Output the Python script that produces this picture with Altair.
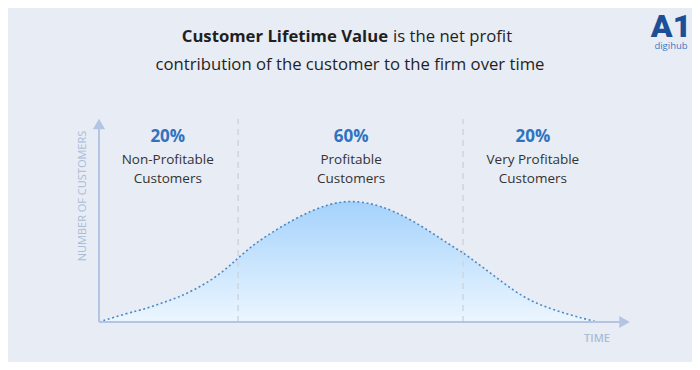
import altair as alt
import pandas as pd

# Curve: time (0-100) vs number of customers (0-100)
time = [0, 5.4, 8.6, 11.8, 14.8, 18.0, 21.2, 24.2, 26.1, 28.7, 30.8, 37.1, 43.3, 47.7, 52.7, 58.9,
        66.4, 68.3, 70.9, 73.4, 75.8, 78.4, 81.4, 84.6, 87.8, 90.8, 93.4]
customers = [0, 4.4, 6.3, 9.3, 11.9, 15.9, 20.6, 26.6, 31.3, 37.0, 41.0, 51.2, 58, 59.3, 57.1, 49.8,
             36.6, 33.9, 28.8, 23.9, 19.2, 14.3, 9.8, 6.6, 3.9, 1.8, 0]

# Segment boundaries and labels
boundaries = [26.1, 68.3]
seg_center = [12.9, 47.3, 81.4]
seg_pct = ["20%", "60%", "20%"]
seg_name = ["Non-Profitable\nCustomers", "Profitable\nCustomers", "Very Profitable\nCustomers"]

title_bold = "Customer Lifetime Value"
title_rest = "is the net profit"
title_line2 = "contribution of the customer to the firm over time"
y_label = "NUMBER OF CUSTOMERS"
x_label = "TIME"

BG = "#e8ecf4"
AXIS = "#b3c5e3"
FONT = "Open Sans"

curve = pd.DataFrame({"t": time, "c": customers})
xs = alt.Scale(domain=[0, 100], nice=False, zero=False)
ys = alt.Scale(domain=[0, 100], nice=False, zero=False)
X = lambda f: alt.X(f, type="quantitative", scale=xs, axis=None)
Y = lambda f: alt.Y(f, type="quantitative", scale=ys, axis=None)

grad = alt.Gradient(
    gradient="linear",
    stops=[alt.GradientStop(color="#ecf6ff", offset=0), alt.GradientStop(color="#a4d2fc", offset=1)],
    x1=1, x2=1, y1=1, y2=0,
)
area = alt.Chart(curve).mark_area(interpolate="basis", color=grad, clip=False).encode(x=X("t"), y=Y("c"))
line = alt.Chart(curve).mark_line(interpolate="basis", color="#4f88c6", strokeWidth=1.6,
                                   strokeDash=[2, 2.6]).encode(x=X("t"), y=Y("c"))

bnd = pd.DataFrame({"t": boundaries, "c0": [0, 0], "c1": [99, 99]})
vlines = alt.Chart(bnd).mark_rule(color="#cfd5e0", strokeWidth=1.5, strokeDash=[6, 5]).encode(
    x=X("t"), y=Y("c0"), y2="c1")

xaxis = alt.Chart(pd.DataFrame({"t0": [0], "t1": [98], "c": [0]})).mark_rule(color=AXIS, strokeWidth=2).encode(
    x=X("t0"), x2="t1", y=Y("c"))
yaxis = alt.Chart(pd.DataFrame({"t": [0], "c0": [0], "c1": [96]})).mark_rule(color=AXIS, strokeWidth=2).encode(
    x=X("t"), y=Y("c0"), y2="c1")
xarrow = alt.Chart(pd.DataFrame({"t": [98.6], "c": [0]})).mark_point(
    shape="triangle-right", filled=True, opacity=1, color=AXIS, size=150).encode(x=X("t"), y=Y("c"))
yarrow = alt.Chart(pd.DataFrame({"t": [0], "c": [96.6]})).mark_point(
    shape="triangle-up", filled=True, opacity=1, color=AXIS, size=150).encode(x=X("t"), y=Y("c"))

segs = pd.DataFrame({"t": seg_center, "pct": seg_pct, "name": seg_name,
                     "cp": [90.2] * 3, "cn": [79] * 3})
pct_text = alt.Chart(segs).mark_text(font=FONT, fontSize=17, fontWeight="bold", color="#2f73c0",
                                     baseline="middle").encode(x=X("t"), y=Y("cp"), text="pct")
name_text = alt.Chart(segs).mark_text(font=FONT, fontSize=13.5, color="#333333", baseline="middle",
                                      lineBreak="\n", lineHeight=19).encode(x=X("t"), y=Y("cn"), text="name")

one = pd.DataFrame({"k": [0]})
def label(txt, x, y, font=FONT, **kw):
    return alt.Chart(one).mark_text(text=txt, font=font, **kw).encode(x=alt.value(x), y=alt.value(y))

ylab = label(y_label, -16, 79, fontSize=11, color="#a9bcd9", angle=270, baseline="middle", align="center")
xlab = label(x_label, 498, 221.5, fontSize=11, color="#a9bcd9", baseline="middle", align="center", fontWeight=600)
t1 = label(title_bold, 289, -80, fontSize=16.7, fontWeight="bold", color="#1f1f1f", align="right", baseline="middle")
t2 = label(title_rest, 294, -80, fontSize=16.7, color="#1f1f1f", align="left", baseline="middle")
t3 = label(title_line2, 251, -52, fontSize=16.7, color="#1f1f1f", align="center", baseline="middle")
logo1 = label("A1", 572, -80, fontSize=32, fontWeight=900, color="#1c4f96", align="center",
              baseline="alphabetic", font="Roboto")
logo2 = label("digihub", 572, -76, fontSize=9.5, color="#3a78c8", align="center", baseline="top")

chart = alt.layer(area, line, vlines, xaxis, yaxis, xarrow, yarrow, pct_text, name_text,
                  ylab, xlab, t1, t2, t3, logo1, logo2).properties(
    width=533, height=205,
    padding={"left": 91, "top": 109, "right": 60, "bottom": 40},
    autosize=alt.AutoSizeParams(type="none"),
    background=BG,
).configure_view(stroke=None)

chart.save("out.html", embed_options={"renderer": "svg", "actions": False})
